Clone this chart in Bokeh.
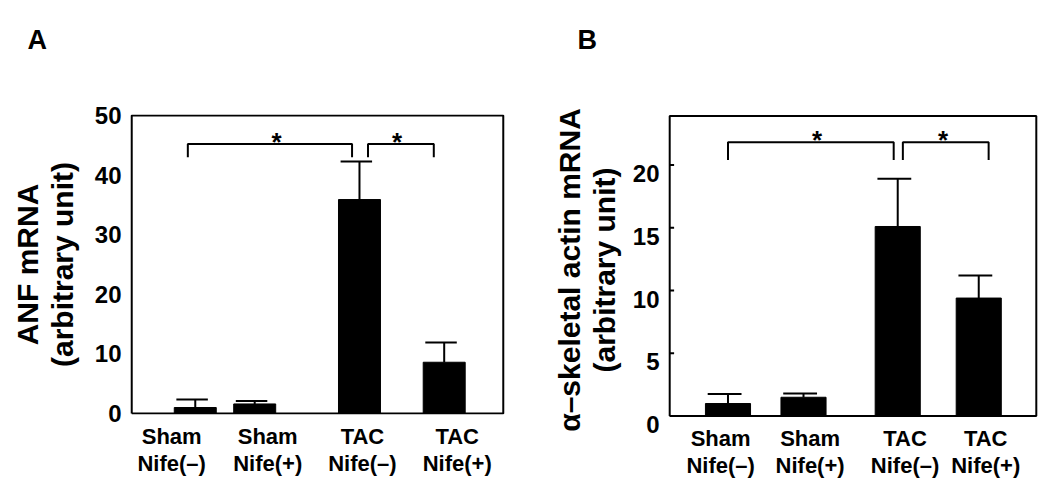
from bokeh.plotting import figure
from bokeh.layouts import row, column
from bokeh.models import FixedTicker, Range1d, LinearAxis
from bokeh.core.properties import value
from bokeh.embed import file_html
from bokeh.resources import INLINE

# ---------------- data ----------------
groups = ["Sham\nNife(–)", "Sham\nNife(+)", "TAC\nNife(–)", "TAC\nNife(+)"]

anf_mean = [1.0, 1.6, 35.9, 8.6]
anf_sem = [1.35, 0.5, 6.4, 3.3]
anf_ticks = [0, 10, 20, 30, 40, 50]

actin_mean = [1.0, 1.5, 15.1, 9.4]
actin_sem = [0.75, 0.3, 3.8, 1.8]
actin_ticks = [0, 5, 10, 15, 20]

panel_letters = ["A", "B"]
sig_marks = ["*", "*"]

FONT = "Liberation Sans"
STRIP_H = 60


def panel(means, sems, ytitle, ticks, geom, lay):
    ylo, yhi, ymax = lay["ylo"], lay["yhi"], lay["ymax"]
    p = figure(frame_width=geom["fw"], frame_height=geom["fh"],
               min_border_left=geom["l"], min_border_top=geom["t"],
               min_border_right=geom["r"], min_border_bottom=geom["b"],
               x_range=Range1d(lay["xlo"], lay["xhi"]), y_range=Range1d(ylo, yhi),
               y_axis_location=None,
               output_backend="svg", toolbar_location=None)
    p.background_fill_color = "white"
    p.border_fill_color = "white"
    p.xgrid.visible = False
    p.ygrid.visible = False
    p.outline_line_color = None

    # frame box drawn at the data extent
    p.line(x=[0, 1, 1, 0, 0], y=[0, 0, ymax, ymax, 0], line_color="black", line_width=2)

    pos = lay["bars"]
    bw = lay["bw"]
    tops = [m + s for m, s in zip(means, sems)]

    p.vbar(x=pos, top=means, bottom=0, width=bw, fill_color="black", line_color="black")
    p.segment(x0=pos, y0=means, x1=pos, y1=tops, line_color="black", line_width=2)
    p.segment(x0=[x - 0.45 * bw for x in pos], x1=[x + 0.30 * bw for x in pos],
              y0=tops, y1=tops, line_color="black", line_width=2)

    # small inner tick marks
    if lay["tick_len"]:
        p.segment(x0=[0] * len(ticks), x1=[lay["tick_len"]] * len(ticks), y0=ticks, y1=ticks,
                  line_color="black", line_width=2)

    # significance brackets
    lo, hi = lay["br_lo"], lay["br_hi"]
    xs = [[a, a, b, b] for a, b in lay["brackets"]]
    ys = [[lo, hi, hi, lo] for _ in lay["brackets"]]
    p.multi_line(xs=xs, ys=ys, line_color="black", line_width=2)
    p.text(x=lay["stars"], y=[hi] * len(lay["stars"]), text=sig_marks,
           text_font=value(FONT), text_font_style="bold", text_font_size="26px",
           text_align="center", text_baseline="alphabetic", y_offset=-2, text_color="black")

    # x axis: group labels
    xa = p.xaxis[0]
    xa.ticker = FixedTicker(ticks=lay["labels"])
    xa.major_label_overrides = {x: g for x, g in zip(lay["labels"], groups)}
    xa.axis_line_color = None
    xa.major_tick_line_color = None
    xa.minor_tick_line_color = None
    xa.major_label_text_font = FONT
    xa.major_label_text_font_style = "bold"
    xa.major_label_text_font_size = "22px"
    xa.major_label_text_color = "black"
    xa.major_label_text_line_height = lay["xlh"]
    xa.major_label_standoff = lay["xstand"]

    # y axis (labels possibly shifted a little below their values, as in the source)
    sh = lay["label_shift"]
    p.extra_y_ranges = {"lab": Range1d(ylo + sh, yhi + sh)}
    ya = LinearAxis(y_range_name="lab", ticker=FixedTicker(ticks=ticks))
    ya.axis_line_color = None
    ya.minor_tick_line_color = None
    ya.major_tick_line_color = None
    ya.major_tick_in = 0
    ya.major_tick_out = 0
    ya.major_label_text_font = FONT
    ya.major_label_text_font_style = "bold"
    ya.major_label_text_font_size = "24px"
    ya.major_label_text_color = "black"
    ya.major_label_standoff = 8
    ya.axis_label = ytitle
    ya.axis_label_text_font = FONT
    ya.axis_label_text_font_style = "bold"
    ya.axis_label_text_font_size = "30px"
    ya.axis_label_text_color = "black"
    ya.axis_label_text_line_height = 1.05
    ya.axis_label_standoff = lay["title_stand"]
    p.add_layout(ya, "left")
    return p


# strip above both panels carrying the panel letters
TOTAL_W = 1042
strip = figure(width=TOTAL_W, height=STRIP_H, min_border=0,
               x_range=Range1d(0, TOTAL_W), y_range=Range1d(0, STRIP_H),
               x_axis_location=None, y_axis_location=None,
               output_backend="svg", toolbar_location=None)
strip.xgrid.visible = False
strip.ygrid.visible = False
strip.outline_line_color = None
strip.background_fill_color = "white"
strip.text(x=[27, 577], y=[STRIP_H - 39] * 2, text=panel_letters,
           text_font=value(FONT), text_font_style="bold", text_font_size="27px",
           text_align="left", text_baseline="middle", text_color="black")

geomA = dict(fw=376, fh=300, l=129, t=113 - STRIP_H, r=35, b=82)
layA = dict(xlo=-0.006, xhi=1.006, ylo=-0.17, yhi=50.17, ymax=50,
            bars=[0.171, 0.331, 0.613, 0.841], bw=0.113,
            labels=[0.1075, 0.366, 0.621, 0.876],
            brackets=[(0.151, 0.593), (0.636, 0.813)], stars=[0.390, 0.714],
            br_lo=43.0, br_hi=45.2, tick_len=0, xstand=3, xlh=1.08, title_stand=13,
            label_shift=0.0)

geomB = dict(fw=371, fh=311, l=127, t=114 - STRIP_H, r=4, b=70)
layB = dict(xlo=-0.006, xhi=1.006, ylo=-0.75, yhi=24.02, ymax=23.9,
            bars=[0.159, 0.365, 0.622, 0.843], bw=0.123,
            labels=[0.139, 0.383, 0.642, 0.862],
            brackets=[(0.159, 0.611), (0.636, 0.870)], stars=[0.402, 0.746],
            br_lo=20.4, br_hi=21.8, tick_len=0.012, xstand=-6, xlh=1.1, title_stand=9,
            label_shift=0.68)

pA = panel(anf_mean, anf_sem, "ANF mRNA\n(arbitrary unit)", anf_ticks, geomA, layA)
pB = panel(actin_mean, actin_sem, "α–skeletal actin mRNA\n(arbitrary unit)",
           actin_ticks, geomB, layB)

layout = column(strip, row(pA, pB, spacing=0), spacing=0)
open("out.html", "w").write(file_html(layout, INLINE))
